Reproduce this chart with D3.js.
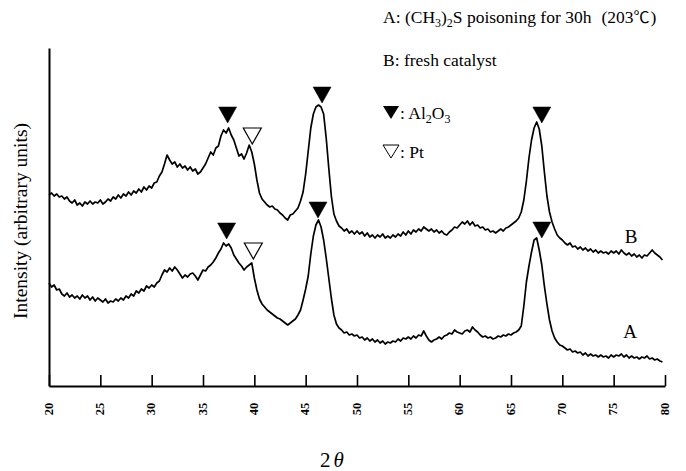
<!DOCTYPE html>
<html>
<head>
<meta charset="utf-8">
<script src="https://cdn.jsdelivr.net/npm/d3@7"></script>
<style>
  body { margin: 0; background: #fff; }
  svg text { font-family: "Liberation Serif", "Times New Roman", serif; fill: #000; }
</style>
</head>
<body>
<div id="container"></div>
<script>
'use strict';

const width = 686,
      height = 471;

// 2θ sampling grid, 20 .. 79.75 in 0.25° steps
const thetaStart = 20, thetaStep = 0.25;

// B: fresh catalyst (arbitrary units)
const seriesB = [
  191,193,190,192,189,190,187,189,185,183,186,181,183,180,184,182,185,182,184,183,
  186,182,184,187,185,189,187,191,188,192,190,194,191,195,193,197,194,199,196,200,
  198,203,204,210,214,222,231,226,222,224,219,222,218,220,216,219,215,217,212,214,
  218,222,228,234,231,238,240,250,256,253,258,251,246,238,230,232,227,233,241,234,
  222,206,193,187,184,181,179,180,177,176,173,171,168,166,171,172,175,178,185,194,
  212,235,258,272,279,281,279,272,248,218,190,172,165,160,158,155,157,153,155,152,
  155,152,154,150,153,149,151,148,151,149,152,148,150,148,151,149,152,150,154,151,
  155,152,156,154,157,155,159,157,155,157,154,156,153,155,152,151,154,156,159,158,
  161,164,162,165,161,164,160,161,158,159,156,157,154,155,153,155,157,155,158,159,
  161,163,165,168,174,186,205,228,246,258,264,257,240,214,190,174,164,157,151,148,
  146,143,141,143,139,140,137,139,136,138,135,137,134,136,133,135,133,134,132,135,
  133,135,132,136,133,131,133,130,132,129,131,128,131,130,133,136,133,131,129,126
];

// A: (CH3)2S poisoning for 30h
const seriesA = [
  103,99,101,96,97,92,90,93,89,91,88,90,87,91,88,90,86,89,85,88,
  86,84,87,83,85,84,87,85,88,86,90,88,92,90,95,93,97,95,100,98,
  101,99,103,105,111,116,114,118,115,119,116,112,108,111,109,112,113,110,106,111,
  116,115,119,121,124,128,133,137,143,140,142,138,131,127,123,120,116,119,121,123,
  108,96,87,82,79,76,74,72,70,68,67,65,63,61,63,65,67,71,76,86,
  97,110,132,150,161,166,159,146,128,108,88,71,62,58,56,53,54,51,52,50,
  51,48,49,46,48,45,47,44,46,43,45,42,44,43,45,44,47,45,48,47,
  49,47,50,48,51,50,55,50,46,44,46,47,49,47,50,51,53,52,56,54,
  53,52,55,56,54,59,56,54,51,49,50,48,49,47,48,50,49,51,50,52,
  51,53,54,56,60,80,104,120,134,146,148,136,121,100,82,66,55,48,44,41,
  40,38,36,37,34,35,33,34,31,33,30,32,30,31,29,31,29,30,28,31,
  29,31,30,32,29,31,28,30,28,29,27,29,28,30,27,28,26,27,25,24
];

const xTicks = [20, 25, 30, 35, 40, 45, 50, 55, 60, 65, 70, 75, 80];

// peak markers: 2θ, intensity at tip, filled (Al2O3) or open (Pt)
const markerTheta = [37.4, 39.8, 46.6, 68.0, 37.3, 39.9, 46.2, 68.0];
const markerValue = [263, 242, 283, 263, 147, 127, 168, 148];
const markerFilled = [true, false, true, true, true, false, true, true];

const curveLabels = ["B", "A"];
const curveLabelTheta = [76.7, 76.6];
const curveLabelValue = [143, 48];

const svg = d3.select("#container")
  .append("svg")
  .attr("width", width)
  .attr("height", height);

svg.append("rect").attr("width", width).attr("height", height).attr("fill", "#fff");

const xScale = d3.scaleLinear().domain([20, 80]).range([49, 665]);
const yScale = d3.scaleLinear().domain([0, 338]).range([386, 48]);

const toPoints = arr => arr.map((v, i) => ({t: thetaStart + i * thetaStep, v}));

// axes
const xAxis = d3.axisBottom(xScale)
  .tickValues(xTicks)
  .tickSizeInner(-11)
  .tickSizeOuter(0);

const gx = svg.append("g")
  .attr("class", "axis x-axis")
  .attr("transform", `translate(0,${yScale(0)})`)
  .call(xAxis);

gx.select(".domain").attr("stroke-width", 2);
gx.selectAll(".tick line").attr("stroke-width", 1.6);
gx.selectAll(".tick text")
  .attr("x", 0)
  .attr("y", 0)
  .attr("dy", null)
  .attr("transform", "translate(-1,23) rotate(-90)")
  .attr("text-anchor", "middle")
  .attr("dominant-baseline", "central")
  .attr("font-family", "Liberation Serif")
  .attr("font-weight", "bold")
  .attr("font-size", 12.5);

const gy = svg.append("g")
  .attr("class", "axis y-axis")
  .attr("transform", `translate(${xScale(20)},0)`)
  .call(d3.axisLeft(yScale).tickValues([]).tickSizeOuter(0));
gy.select(".domain").attr("stroke-width", 2);

// curves
const line = d3.line()
  .x(d => xScale(d.t))
  .y(d => yScale(d.v));

svg.selectAll(".curve")
  .data([toPoints(seriesB), toPoints(seriesA)])
  .join("path")
  .attr("class", "curve")
  .attr("d", line)
  .attr("fill", "none")
  .attr("stroke", "#000")
  .attr("stroke-width", 1.7)
  .attr("stroke-linejoin", "round");

// inverted triangle markers
const triW = 18, triH = 16;
const tri = (cx, tipY, w = triW, h = triH) =>
  `M${cx},${tipY}L${cx - w / 2},${tipY - h}L${cx + w / 2},${tipY - h}Z`;

svg.selectAll(".marker")
  .data(markerTheta.map((t, i) => ({t, v: markerValue[i], filled: markerFilled[i]})))
  .join("path")
  .attr("class", "marker")
  .attr("d", d => tri(xScale(d.t), yScale(d.v)))
  .attr("fill", d => d.filled ? "#000" : "#fff")
  .attr("stroke", "#000")
  .attr("stroke-width", d => d.filled ? 0.5 : 1.2);

// curve labels
svg.selectAll(".curve-label")
  .data(curveLabels)
  .join("text")
  .attr("class", "curve-label")
  .attr("x", (d, i) => xScale(curveLabelTheta[i]))
  .attr("y", (d, i) => yScale(curveLabelValue[i]))
  .attr("text-anchor", "middle")
  .attr("font-size", 19)
  .text(d => d);

// axis titles
svg.append("text")
  .attr("transform", "translate(27,221) rotate(-90)")
  .attr("text-anchor", "middle")
  .attr("font-size", 19.5)
  .text("Intensity (arbitrary units)");

const xt = svg.append("text")
  .attr("x", 332)
  .attr("y", 467)
  .attr("text-anchor", "middle")
  .attr("font-size", 21);
xt.append("tspan").text("2");
xt.append("tspan").attr("dx", 3).attr("font-style", "italic").text("θ");

// legend
const lg = svg.append("g").attr("font-size", 17.5);

const l1 = lg.append("text").attr("x", 383).attr("y", 23);
l1.append("tspan").text("A: (CH");
l1.append("tspan").attr("font-size", 12).attr("dy", 4).text("3");
l1.append("tspan").attr("dy", -4).text(")");
l1.append("tspan").attr("font-size", 12).attr("dy", 4).text("2");
l1.append("tspan").attr("dy", -4).text("S poisoning for 30h");
l1.append("tspan").attr("dx", 10).text("(203");
l1.append("tspan").style("font-family", "'Noto Sans CJK SC', sans-serif").attr("font-size", 16).text("℃");
l1.append("tspan").attr("dx", 1).text(")");

lg.append("text").attr("x", 383).attr("y", 66).text("B: fresh catalyst");

lg.append("path")
  .attr("d", tri(391, 119, 16, 13))
  .attr("fill", "#000");
const l3 = lg.append("text").attr("x", 400).attr("y", 119);
l3.append("tspan").text(": Al");
l3.append("tspan").attr("font-size", 12).attr("dy", 4).text("2");
l3.append("tspan").attr("dy", -4).text("O");
l3.append("tspan").attr("font-size", 12).attr("dy", 4).text("3");

lg.append("path")
  .attr("d", tri(391, 158, 16, 13))
  .attr("fill", "#fff")
  .attr("stroke", "#000")
  .attr("stroke-width", 1);
lg.append("text").attr("x", 400).attr("y", 158).text(": Pt");
</script>
</body>
</html>
